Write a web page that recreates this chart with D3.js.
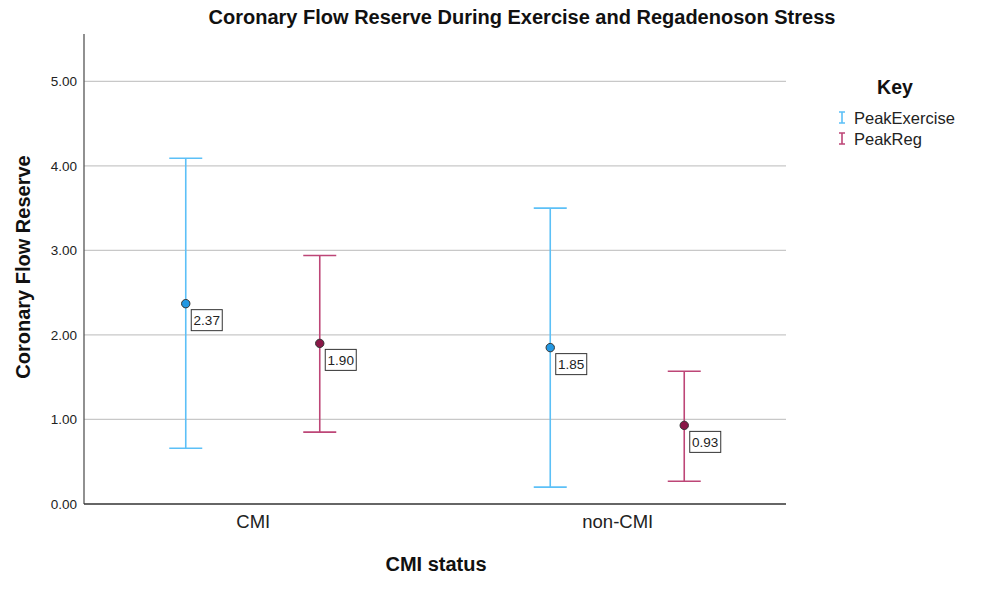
<!DOCTYPE html>
<html>
<head>
<meta charset="utf-8">
<script src="https://cdn.jsdelivr.net/npm/d3@7"></script>
<style>
  body { margin: 0; background: #fff; }
  text { font-family: "Liberation Sans", Arial, sans-serif; }
</style>
</head>
<body>
<div id="chart"></div>
<script>
// data
const groups = ["CMI", "non-CMI"];
const seriesNames = ["PeakExercise", "PeakReg"];
const means = [[2.37, 1.90], [1.85, 0.93]];
const upper = [[4.09, 2.94], [3.50, 1.57]];
const lower = [[0.66, 0.85], [0.20, 0.27]];
const yTicks = [0, 1, 2, 3, 4, 5];

const lineColor = ["#5cc0f7", "#bd4677"];
const dotColor = ["#2398e3", "#8a1848"];

const width = 993, height = 593;
const margin = {top: 34, right: 207, bottom: 89, left: 84};

const svg = d3.select("#chart").append("svg")
    .attr("width", width)
    .attr("height", height);

const x = d3.scalePoint().domain(groups)
    .range([margin.left, width - margin.right])
    .padding(0.463);
const offset = d3.scalePoint().domain(seriesNames).range([-67, 67]);
const y = d3.scaleLinear().domain([0, 5.56]).range([height - margin.bottom, margin.top]);

// gridlines
svg.append("g")
    .selectAll("line")
    .data(yTicks.filter(d => d > 0))
    .join("line")
    .attr("x1", margin.left).attr("x2", width - margin.right)
    .attr("y1", d => y(d)).attr("y2", d => y(d))
    .attr("stroke", "#c8c8c8").attr("stroke-width", 1.2);

// y axis
const yAxis = svg.append("g")
    .attr("transform", "translate(" + margin.left + ",0)")
    .call(d3.axisLeft(y).tickValues(yTicks).tickFormat(d3.format(".2f")).tickSize(0).tickPadding(7));
yAxis.select(".domain").remove();
yAxis.selectAll("text").attr("font-size", 13.5).attr("fill", "#222")
    .style("font-family", "Liberation Sans, Arial, sans-serif");
svg.append("line")
    .attr("x1", margin.left).attr("x2", margin.left)
    .attr("y1", margin.top).attr("y2", y(0))
    .attr("stroke", "#555").attr("stroke-width", 1.3);

// x axis
const xAxis = svg.append("g")
    .attr("transform", "translate(0," + y(0) + ")")
    .call(d3.axisBottom(x).tickSize(0).tickPadding(11));
xAxis.select(".domain").remove();
xAxis.selectAll("text").attr("font-size", 18.5).attr("fill", "#222")
    .style("font-family", "Liberation Sans, Arial, sans-serif");
svg.append("line")
    .attr("x1", margin.left).attr("x2", width - margin.right)
    .attr("y1", y(0)).attr("y2", y(0))
    .attr("stroke", "#333").attr("stroke-width", 1.3);

// error bars
const rows = [];
groups.forEach((g, gi) => seriesNames.forEach((s, si) => {
    rows.push({g: g, s: s, si: si, mean: means[gi][si], hi: upper[gi][si], lo: lower[gi][si]});
}));
const cx = d => x(d.g) + offset(d.s);
const capW = 16.5;

const bars = svg.append("g").selectAll("g").data(rows).join("g");
bars.append("line")
    .attr("x1", cx).attr("x2", cx)
    .attr("y1", d => y(d.hi)).attr("y2", d => y(d.lo))
    .attr("stroke", d => lineColor[d.si]).attr("stroke-width", 1.6);
bars.append("line")
    .attr("x1", d => cx(d) - capW).attr("x2", d => cx(d) + capW)
    .attr("y1", d => y(d.hi)).attr("y2", d => y(d.hi))
    .attr("stroke", d => lineColor[d.si]).attr("stroke-width", 1.6);
bars.append("line")
    .attr("x1", d => cx(d) - capW).attr("x2", d => cx(d) + capW)
    .attr("y1", d => y(d.lo)).attr("y2", d => y(d.lo))
    .attr("stroke", d => lineColor[d.si]).attr("stroke-width", 1.6);
bars.append("circle")
    .attr("cx", cx).attr("cy", d => y(d.mean)).attr("r", 4.2)
    .attr("fill", d => dotColor[d.si]).attr("stroke", "#333").attr("stroke-width", 1);

// value labels in boxes
bars.append("rect")
    .attr("x", d => cx(d) + 5.5).attr("y", d => y(d.mean) + 6)
    .attr("width", 31).attr("height", 21)
    .attr("fill", "#fff").attr("stroke", "#333").attr("stroke-width", 1);
bars.append("text")
    .attr("x", d => cx(d) + 21).attr("y", d => y(d.mean) + 21.5)
    .attr("text-anchor", "middle").attr("font-size", 13.5).attr("fill", "#222")
    .text(d => d3.format(".2f")(d.mean));

// titles
svg.append("text")
    .attr("x", 522).attr("y", 24)
    .attr("text-anchor", "middle").attr("font-size", 20).attr("font-weight", "bold")
    .attr("fill", "#111")
    .text("Coronary Flow Reserve During Exercise and Regadenoson Stress");
svg.append("text")
    .attr("transform", "translate(30," + 267 + ") rotate(-90)")
    .attr("text-anchor", "middle").attr("font-size", 20).attr("font-weight", "bold")
    .attr("fill", "#111")
    .text("Coronary Flow Reserve");
svg.append("text")
    .attr("x", 436).attr("y", 571)
    .attr("text-anchor", "middle").attr("font-size", 20).attr("font-weight", "bold")
    .attr("fill", "#111")
    .text("CMI status");

// legend
const legend = svg.append("g").attr("transform", "translate(842,0)");
legend.append("text")
    .attr("x", 53).attr("y", 94)
    .attr("text-anchor", "middle").attr("font-size", 19.5).attr("font-weight", "bold")
    .attr("fill", "#111").text("Key");
const items = legend.selectAll("g.item").data(seriesNames).join("g")
    .attr("class", "item")
    .attr("transform", (d, i) => "translate(0," + (118 + i * 21) + ")");
items.append("path")
    .attr("d", "M-3,-6H3M0,-6V5M-3,5H3")
    .attr("fill", "none")
    .attr("stroke", (d, i) => lineColor[i]).attr("stroke-width", 1.6);
items.append("text")
    .attr("x", 12).attr("y", 5.5)
    .attr("font-size", 16.5).attr("fill", "#222")
    .text(d => d);
</script>
</body>
</html>
